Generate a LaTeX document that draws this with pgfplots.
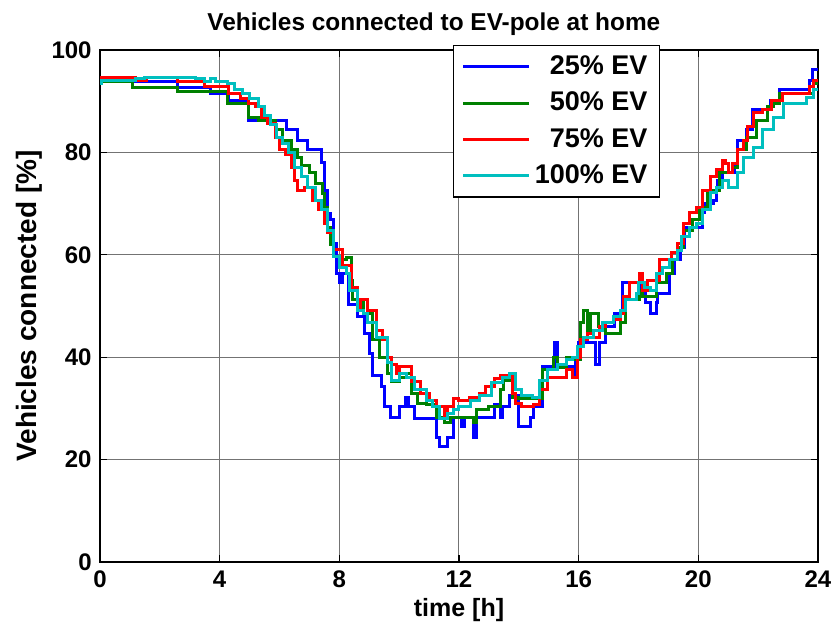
\documentclass[border=0pt]{standalone}
\usepackage{fontspec}
\setmainfont{Liberation Sans}
\usepackage{pgfplots}
\pgfplotsset{compat=1.18}
\definecolor{mgreen}{RGB}{0,128,0}
\definecolor{mcyan}{RGB}{0,191,191}
\begin{document}
\begin{tikzpicture}
\path[use as bounding box] (-50pt,-32.5pt) rectangle (366pt,281pt);
\begin{axis}[
  at={(0pt,0pt)}, anchor=south west,
  scale only axis, width=359pt, height=256pt,
  xmin=0, xmax=24, ymin=0, ymax=100,
  xtick={0,4,8,12,16,20,24}, ytick={0,20,40,60,80,100},
  grid=major, major grid style={black!55, line width=0.5pt},
  tick align=inside, major tick length=3.5pt,
  tick style={black, line width=0.6pt},
  axis line style={black, line width=0.9pt},
  /pgf/number format/assume math mode=true,
  tick label style={font=\bfseries\fontsize{12}{14}\selectfont},
  xticklabel style={anchor=base, inner sep=0pt, yshift=-13pt},
  yticklabel style={anchor=east, inner sep=0pt, xshift=-4pt},
  every axis title shift=0pt,
  title={Vehicles connected to EV-pole at home},
  title style={font=\bfseries\fontsize{12.2}{14}\selectfont, at={(axis description cs:0.465,1.039)}, anchor=base, inner sep=0pt},
  xlabel={time [h]},
  xlabel style={font=\bfseries\fontsize{12.5}{14}\selectfont, at={(axis description cs:0.5,-0.1074)}, anchor=base, inner sep=0pt},
  ylabel={Vehicles connected [\%]},
  ylabel style={font=\bfseries\fontsize{14}{16}\selectfont, at={(axis description cs:-0.0891,0.5)}, anchor=base, inner sep=0pt},
  legend style={at={(0.78,1.0098)}, anchor=north east, draw=black, line width=0.7pt,
    font=\bfseries\fontsize{13.5}{15}\selectfont, row sep=3.3pt, inner xsep=4pt, inner ysep=3pt},
  legend cell align=right,
  legend image code/.code={\draw[#1, line width=1.5pt] (0pt,0pt) -- (33pt,0pt);},
  every axis plot/.append style={line width=1.5pt, const plot},
]
\addplot[blue] coordinates {(0,94.5)(0.93,93.8)(2.6,92.6)(3.7,91.5)(4.3,90.2)(4.95,86.3)(6.25,84.4)(6.6,82.4)(6.95,80.5)(7.4,78.1)(7.5,72.6)(7.6,68)(7.7,66.8)(7.8,62.3)(7.9,56.4)(8.0,54.5)(8.1,56.4)(8.3,50.2)(8.6,48)(8.85,44.7)(9.0,40.8)(9.1,36.5)(9.4,34.2)(9.5,30.3)(9.7,28.3)(10.0,30.3)(10.2,32.2)(10.3,30.3)(10.5,28.1)(11.25,24.4)(11.35,22.5)(11.6,24.4)(11.8,28.3)(12.1,26.4)(12.2,28.3)(12.5,24.4)(12.6,28.3)(13.2,30.7)(13.4,28.3)(13.45,30.3)(13.7,32.6)(14.0,26.4)(14.4,28.3)(14.5,30.3)(14.8,38.1)(15.2,42.8)(15.3,38.1)(15.8,36.1)(15.9,40)(16.0,42.8)(16.55,38.5)(16.7,42.8)(16.9,45.9)(17.2,48.6)(17.45,54.5)(18.1,52.5)(18.25,50.6)(18.4,48.6)(18.6,50.6)(18.65,52.5)(19.05,56.4)(19.2,59)(19.4,61.5)(19.55,65.4)(20.15,68.2)(20.2,70.1)(20.5,70.7)(20.6,72.6)(20.65,74.6)(20.8,76)(21.2,77.9)(21.3,82.4)(21.6,84.4)(21.8,88.3)(22.4,90.2)(22.7,92.2)(23.73,94.1)(23.8,96.1)(24,96.1)};
\addlegendentry{25\% EV}
\addplot[mgreen] coordinates {(0,93.75)(1.07,92.6)(2.6,91.8)(4.25,89.6)(4.95,86.9)(5.3,86.3)(5.85,84.4)(6.1,82.4)(6.4,80.5)(6.6,79.1)(6.75,77.5)(7.0,76)(7.2,74)(7.45,72)(7.5,69.3)(7.6,65.4)(7.7,62)(7.8,59.6)(8.1,59)(8.25,59.4)(8.4,55)(8.45,51.2)(8.8,48.6)(9.1,43.4)(9.35,40)(9.6,36.9)(9.75,35.2)(10.0,36.1)(10.25,36.9)(10.4,33)(10.6,31)(10.9,30.7)(11.25,28.3)(11.5,27.3)(11.7,28.3)(12.5,27.3)(12.6,29.7)(13.0,30.3)(13.4,33.6)(13.5,35.5)(13.8,32.2)(14.0,32)(14.8,37.5)(15.15,40)(15.3,38)(15.6,40)(15.8,39.5)(16.05,46.7)(16.15,49.2)(16.3,44.7)(16.4,48.6)(16.65,45.9)(16.9,44.7)(17.4,46.7)(17.55,51.2)(18.05,53.1)(18.15,51.8)(18.6,54.5)(18.95,56.4)(19.15,59)(19.3,61.5)(19.5,64.8)(19.8,66.8)(20.05,69.3)(20.3,72.1)(20.5,72.6)(20.7,76)(21.15,77.1)(21.3,80.5)(21.6,83)(21.95,86.3)(22.3,88.9)(22.5,89.6)(22.7,91.6)(23.85,93.5)(24,93.5)};
\addlegendentry{50\% EV}
\addplot[red] coordinates {(0,94.7)(1.17,94.1)(1.57,94.7)(2.6,93.75)(3.5,92.8)(4.3,91.6)(4.7,90.6)(4.95,89.6)(5.2,88.9)(5.4,86.9)(5.6,85.7)(5.85,83)(6.0,80.5)(6.2,79.5)(6.4,77.1)(6.5,74.6)(6.6,72.6)(6.85,73.2)(7.1,70.7)(7.3,68.8)(7.5,66.2)(7.6,64.3)(7.8,61)(8.1,58)(8.4,53.7)(8.6,49.8)(8.7,51.2)(8.95,49.2)(9.25,45.3)(9.45,43.4)(9.6,40)(9.75,38.5)(9.9,36.9)(10.0,38.1)(10.4,35.2)(10.7,33)(11.0,31.6)(11.25,30.3)(11.5,28.3)(11.6,30.3)(11.8,32)(12.0,31.6)(12.35,32.2)(12.7,33)(12.9,34.2)(13.2,35.9)(13.4,36.5)(13.7,36.9)(13.8,33)(13.9,31)(14.1,30.3)(14.5,30.7)(14.7,33.6)(14.95,36.1)(15.6,37.5)(15.8,36.1)(15.95,40)(16.05,43.4)(16.3,44.7)(16.5,43.9)(16.7,45.9)(16.9,46.7)(17.15,47.3)(17.4,48.6)(17.5,51.8)(17.7,54.5)(18.05,56.4)(18.15,53.1)(18.3,55)(18.7,59)(19.1,60.4)(19.3,62.3)(19.5,66.2)(19.7,68.2)(19.95,69.3)(20.15,72.6)(20.4,75.2)(20.6,76.6)(20.8,78.5)(20.9,77.9)(21.0,76)(21.15,77.9)(21.3,80.5)(21.5,82.4)(21.65,85)(21.85,87.7)(22.15,88.3)(22.45,90.2)(22.8,91.6)(23.7,92.8)(23.85,94.1)(24,94.1)};
\addlegendentry{75\% EV}
\addplot[mcyan] coordinates {(0,93.5)(0.05,94.1)(1.17,94.5)(1.5,94.7)(3.2,94.5)(3.5,93.75)(3.7,94.5)(3.85,93.75)(4.25,93.5)(4.5,92.2)(4.75,91.6)(5.0,90.6)(5.3,88.9)(5.5,87.3)(5.7,85.4)(5.9,83)(6.1,81.8)(6.3,79.9)(6.5,77.1)(6.75,75.2)(6.95,73.2)(7.2,70.7)(7.4,68.8)(7.6,64.8)(7.8,59.6)(8.0,57.6)(8.25,56.4)(8.35,53.1)(8.6,49.2)(8.8,48.6)(8.95,46.7)(9.25,43.9)(9.6,38.9)(9.75,35.5)(10.0,36.9)(10.25,36.1)(10.5,33.6)(10.9,31.6)(11.1,30.3)(11.35,28.1)(11.6,29.1)(11.8,29.7)(12.0,30.3)(12.4,31.6)(12.7,32.6)(13.1,35)(13.45,36.1)(13.7,36.9)(13.9,33.6)(14.1,32.6)(14.45,32.2)(14.7,35.5)(14.95,37.5)(15.3,38.5)(15.6,39.5)(15.8,40)(15.95,42)(16.15,43.9)(16.5,45.3)(16.8,46.7)(17.15,47.9)(17.4,49.2)(17.55,51.2)(17.95,52.5)(18.0,54.5)(18.2,53.7)(18.4,53.1)(18.6,56.4)(18.8,57.6)(19.05,59)(19.3,60.9)(19.45,63.5)(19.7,65.4)(19.95,66.2)(20.15,68.8)(20.4,72.1)(20.6,73.2)(20.8,74.6)(21.0,73.2)(21.3,76)(21.5,79.1)(21.85,81)(22.15,84.4)(22.5,86.9)(22.85,89.6)(23.6,90.8)(23.85,92.2)(24,92.2)};
\addlegendentry{100\% EV}
\end{axis}
\end{tikzpicture}
\end{document}
